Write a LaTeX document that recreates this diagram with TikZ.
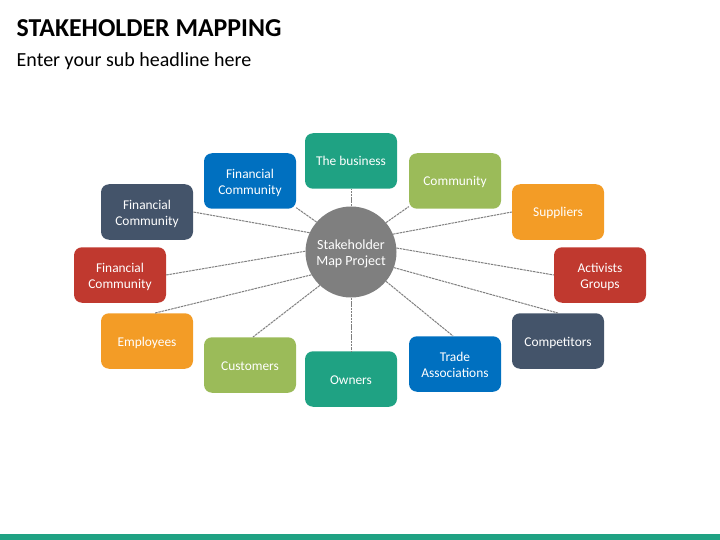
\documentclass[tikz,border=0pt]{standalone}
\usepackage{fontspec}
\setmainfont{Carlito}
\definecolor{tealbox}{HTML}{1FA283}
\definecolor{limebox}{HTML}{9BBB59}
\definecolor{orangebox}{HTML}{F39C26}
\definecolor{redbox}{HTML}{C0392F}
\definecolor{navybox}{HTML}{44546A}
\definecolor{bluebox}{HTML}{0070C0}
\definecolor{hubgray}{HTML}{7F7F7F}
\tikzset{
	stake/.style={rounded corners=8pt, minimum width=92pt, minimum height=55.5pt, inner sep=0pt, text=white, align=center, text height=10pt, text depth=0pt, font=\fontsize{13.4}{16}\selectfont},
	twolines/.style={text height=26.5pt},
	hub/.style={circle, fill=hubgray, minimum size=91pt, inner sep=0pt, text=white, align=center, text height=27pt, text depth=0pt, font=\fontsize{14}{16}\selectfont},
	spoke/.style={hubgray, line width=1pt, dash pattern=on 2.5pt off 0.8pt},
	headline/.style={anchor=base west, inner sep=0pt}
}
\begin{document}
\begin{tikzpicture}[x=1pt,y=-1pt]
	\useasboundingbox (0,0) rectangle (720,540);
	\fill[tealbox] (0,534) rectangle (720,540);
	\node[headline, font=\fontsize{25.8}{28}\selectfont\bfseries] (title) at (16.5,37) {STAKEHOLDER MAPPING};
	\node[headline, font=\fontsize{20}{24}\selectfont] (subtitle) at (16.5,67) {Enter your sub headline here};

	\node[hub] (center) at (351,252) {Stakeholder\\Map Project};

	\node[stake, fill=tealbox] (business) at (351,161) {The business};
	\node[stake, fill=limebox] (community) at (455,181) {Community};
	\node[stake, fill=orangebox] (suppliers) at (558,212) {Suppliers};
	\node[stake, twolines, fill=redbox] (activists) at (600,275) {Activists\\Groups};
	\node[stake, fill=navybox] (competitors) at (558,341) {Competitors};
	\node[stake, twolines, fill=bluebox] (trade) at (455,364) {Trade\\Associations};
	\node[stake, fill=tealbox] (owners) at (351,379) {Owners};
	\node[stake, fill=limebox] (customers) at (250,365) {Customers};
	\node[stake, fill=orangebox] (employees) at (147,341) {Employees};
	\node[stake, twolines, fill=redbox] (finred) at (120,275) {Financial\\Community};
	\node[stake, twolines, fill=navybox] (finnavy) at (147,212) {Financial\\Community};
	\node[stake, twolines, fill=bluebox] (finblue) at (250,181) {Financial\\Community};

	% spokes
	\draw[spoke] (center.90) -- (business.south);
	\draw[spoke] (center.40) -- (community.209);
	\draw[spoke] (center.23) -- (suppliers.west);
	\draw[spoke] (center.5) -- (activists.west);
	\draw[spoke] (center.-20) -- (competitors.north);
	\draw[spoke] (center.-40) -- (trade.94);
	\draw[spoke] (center.270) -- (owners.north);
	\draw[spoke] (center.227) -- (customers.84);
	\draw[spoke] (center.210) -- (employees.74);
	\draw[spoke] (center.179) -- (finred.east);
	\draw[spoke] (center.155) -- (finnavy.east);
	\draw[spoke] (center.139) -- (finblue.-30);
\end{tikzpicture}
\end{document}
